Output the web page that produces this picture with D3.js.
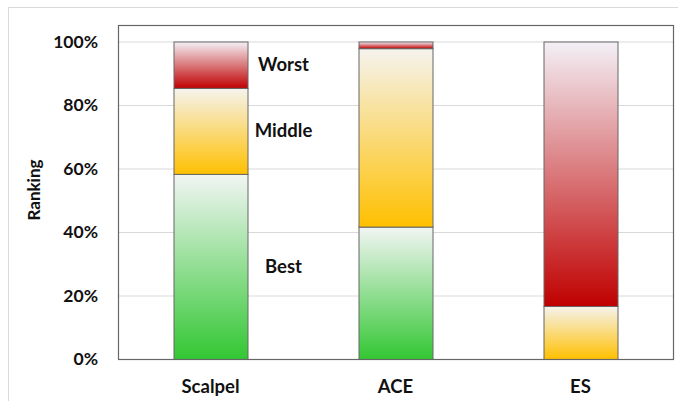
<!DOCTYPE html>
<html>
<head>
<meta charset="utf-8">
<script src="https://cdn.jsdelivr.net/npm/d3@7"></script>
<style>
  html, body { margin: 0; padding: 0; background: #fff; }
  svg { display: block; }
  text { font-family: Lato, "Open Sans", sans-serif; font-weight: bold; fill: #111; }
</style>
</head>
<body>
<svg id="chart" width="678" height="401"></svg>
<script>
// Methods compared and how often each landed in each ranking band (share of cases)
const methods = ["Scalpel", "ACE", "ES"];
const bands = ["Best", "Middle", "Worst"];
const bestShare   = [0.583, 0.417, 0.0];
const middleShare = [0.271, 0.562, 0.167];
const worstShare  = [0.146, 0.021, 0.833];
const yTicks = [0, 0.2, 0.4, 0.6, 0.8, 1.0];
const yTitle = "Ranking";

// colour at the bottom of each band's gradient; it fades to near white at the top
const bandColor = { Best: "#33c733", Middle: "#ffc000", Worst: "#c00000" };
const bandTop   = { Best: "#f2f5f4", Middle: "#f5f3ee", Worst: "#f3f0f6" };

const svg = d3.select("#chart");
const W = 678, H = 401;
const plot = { left: 118, top: 25, right: 673, bottom: 359 };

// outer chart frame
svg.append("rect")
  .attr("x", 8.5).attr("y", 7.5)
  .attr("width", W).attr("height", H)
  .attr("fill", "none").attr("stroke", "#d9d9d9");

const x = d3.scaleBand().domain(methods)
  .range([plot.left, plot.right]).paddingInner(0.6).paddingOuter(0.3);
const y = d3.scaleLinear().domain([0, 1]).range([plot.bottom, 41.5]);

// gradients
const defs = svg.append("defs");
bands.forEach(b => {
  const g = defs.append("linearGradient").attr("id", "grad-" + b)
    .attr("x1", 0).attr("y1", 1).attr("x2", 0).attr("y2", 0);
  g.append("stop").attr("offset", 0).attr("stop-color", bandColor[b]);
  g.append("stop").attr("offset", 1).attr("stop-color", bandTop[b]);
});

// horizontal gridlines
svg.append("g")
  .attr("transform", `translate(${plot.left},0)`)
  .call(d3.axisLeft(y).tickValues(yTicks.filter(t => t > 0))
        .tickSize(-(plot.right - plot.left)).tickFormat(""))
  .call(g => g.select(".domain").remove())
  .call(g => g.selectAll("line").attr("stroke", "#d9d9d9").attr("stroke-width", 1));

// y tick labels
svg.append("g")
  .attr("transform", `translate(${plot.left},0)`)
  .call(d3.axisLeft(y).tickValues(yTicks).tickSize(0).tickPadding(20)
        .tickFormat(d3.format(".0%")))
  .call(g => g.select(".domain").remove())
  .call(g => g.selectAll("text").attr("font-size", 17.5).attr("fill", "#111")
        .style("font-family", "Lato, sans-serif").style("font-weight", "bold"));

// stacked data
const rows = methods.map((m, i) => ({
  method: m, Best: bestShare[i], Middle: middleShare[i], Worst: worstShare[i]
}));
const stacked = d3.stack().keys(bands)(rows);

const bw = x.bandwidth();
stacked.forEach(layer => {
  svg.append("g").selectAll("rect")
    .data(layer.filter(d => d[1] - d[0] > 0))
    .join("rect")
    .attr("x", d => x(d.data.method) + 0.5)
    .attr("y", d => y(d[1]) + 0.5)
    .attr("width", bw)
    .attr("height", d => y(d[0]) - y(d[1]))
    .attr("fill", `url(#grad-${layer.key})`)
    .attr("stroke", "#666")
    .attr("stroke-width", 1);
});

// plot frame
svg.append("rect")
  .attr("x", plot.left + 0.5).attr("y", plot.top + 0.5)
  .attr("width", plot.right - plot.left).attr("height", plot.bottom - plot.top)
  .attr("fill", "none").attr("stroke", "#666").attr("stroke-width", 1.2);

// category labels
svg.append("g")
  .attr("transform", `translate(0,${plot.bottom})`)
  .call(d3.axisBottom(x).tickSize(0).tickPadding(21))
  .call(g => g.select(".domain").remove())
  .call(g => g.selectAll("text").attr("font-size", 18.5).attr("fill", "#111")
        .style("font-family", "Lato, sans-serif").style("font-weight", "bold"));

// band labels beside the first bar
const first = stacked.map(layer => ({ key: layer.key, d: layer[0] }));
svg.append("g").selectAll("text")
  .data(first)
  .join("text")
  .attr("x", x(methods[0]) + bw + 36)
  .attr("y", d => y((d.d[0] + d.d[1]) / 2))
  .attr("dy", "0.35em")
  .attr("text-anchor", "middle")
  .attr("font-size", 18.5)
  .text(d => d.key);

// y axis title
svg.append("text")
  .attr("transform", `translate(40,190) rotate(-90)`)
  .attr("text-anchor", "middle")
  .attr("font-size", 17)
  .text(yTitle);
</script>
</body>
</html>
